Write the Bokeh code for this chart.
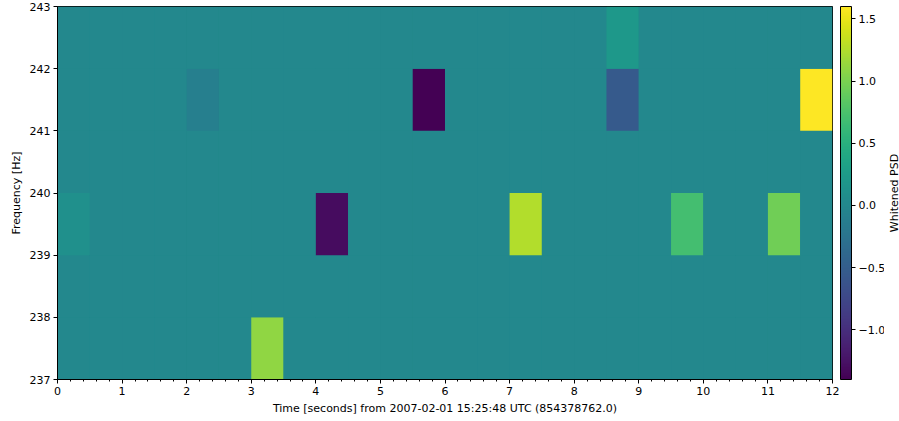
from bokeh.plotting import figure
from bokeh.layouts import row
from bokeh.models import (ColumnDataSource, LinearColorMapper, ColorBar, FixedTicker,
                          CustomJSTickFormatter, Range1d)
from bokeh.palettes import Viridis256
from bokeh.embed import file_html
from bokeh.resources import INLINE

# Time bins (s) start values, frequency bins (Hz) start values
times = [i * 0.5 for i in range(24)]
freqs = [237, 238, 239, 240, 241, 242]

# Whitened PSD per frequency row (24 time bins each)
row_237 = [0, 0, 0, 0, 0, 0, 1.1, 0, 0, 0, 0, 0, 0, 0, 0, 0, 0, 0, 0, 0, 0, 0, 0, 0]
row_238 = [0] * 24
row_239 = [0.1, 0, 0, 0, 0, 0, 0, 0, -1.3, 0, 0, 0, 0, 0, 1.25, 0, 0, 0, 0, 0.7, 0, 0, 0.95, 0]
row_240 = [0] * 24
row_241 = [0, 0, 0, 0, -0.1, 0, 0, 0, 0, 0, 0, -1.4, 0, 0, 0, 0, 0, -0.55, 0, 0, 0, 0, 0, 1.6]
row_242 = [0, 0, 0, 0, 0, 0, 0, 0, 0, 0, 0, 0, 0, 0, 0, 0, 0, 0.2, 0, 0, 0, 0, 0, 0]
rows = [row_237, row_238, row_239, row_240, row_241, row_242]

vmin, vmax = -1.4, 1.6
dt = 0.5
df = 1.0
left, right, bottom, top, val = [], [], [], [], []
for f, r in zip(freqs, rows):
    for t, v in zip(times, r):
        left.append(t); right.append(t + dt)
        bottom.append(f); top.append(f + df)
        val.append(v)
src = ColumnDataSource(dict(left=left, right=right, bottom=bottom, top=top, val=val))

mapper = LinearColorMapper(palette=Viridis256, low=vmin, high=vmax)
zero_color = Viridis256[int((0 - vmin) / (vmax - vmin) * 255)]

FONT = "DejaVu Sans"
p = figure(output_backend="svg", toolbar_location=None,
           frame_width=775, frame_height=373,
           x_range=Range1d(0, 12), y_range=Range1d(237, 243),
           min_border_left=57, min_border_top=6, min_border_right=52, min_border_bottom=0)
p.quad(left="left", right="right", bottom="bottom", top="top", source=src,
       fill_color={"field": "val", "transform": mapper}, line_color=None)

p.grid.visible = False
p.outline_line_color = "black"
p.outline_line_width = 1
p.background_fill_color = zero_color

p.xaxis.ticker = FixedTicker(ticks=list(range(0, 13)),
                             minor_ticks=[i * 0.2 for i in range(61)])
p.yaxis.ticker = FixedTicker(ticks=freqs + [243], minor_ticks=[])
p.xaxis.axis_label = "Time [seconds] from 2007-02-01 15:25:48 UTC (854378762.0)"
p.yaxis.axis_label = "Frequency [Hz]"
for ax in (p.xaxis[0], p.yaxis[0]):
    ax.axis_label_text_font = FONT
    ax.axis_label_text_font_size = "11px"
    ax.axis_label_text_font_style = "normal"
    ax.axis_label_text_color = "black"
    ax.major_label_text_font = FONT
    ax.major_label_text_font_size = "11px"
    ax.major_label_text_color = "black"
    ax.major_tick_in = 0
    ax.major_tick_out = 4
    ax.minor_tick_in = 0
    ax.minor_tick_out = 2
    ax.axis_line_color = "black"
    ax.major_tick_line_color = "black"
    ax.minor_tick_line_color = "black"
    ax.major_label_standoff = 3
    ax.axis_label_standoff = 4
p.yaxis.major_label_orientation = "horizontal"

fmt = CustomJSTickFormatter(code="return tick.toFixed(1).replace('-', '\\u2212');")
cb = ColorBar(color_mapper=mapper, width=11, height=373, margin=0, padding=0,
              location=(783, 0),
              ticker=FixedTicker(ticks=[-1.0, -0.5, 0.0, 0.5, 1.0, 1.5]),
              formatter=fmt,
              major_tick_in=0, major_tick_out=4, major_tick_line_color="black",
              minor_tick_line_color=None,
              bar_line_color="black", bar_line_width=1,
              major_label_text_font=FONT, major_label_text_font_size="11px",
              major_label_text_color="black", label_standoff=3,
              background_fill_color=None, border_line_color=None)
p.add_layout(cb, "center")

# narrow companion figure whose left-axis label is the colour bar title
q = figure(output_backend="svg", toolbar_location=None,
           frame_width=1, frame_height=373,
           x_range=Range1d(0, 1), y_range=Range1d(vmin, vmax),
           min_border_left=0, min_border_top=6, min_border_right=0, min_border_bottom=36)
q.xaxis.visible = False
q.grid.visible = False
q.outline_line_color = None
q.background_fill_color = None
q.border_fill_color = None
qa = q.yaxis[0]
qa.ticker = FixedTicker(ticks=[])
qa.axis_line_color = None
qa.major_tick_line_color = None
qa.minor_tick_line_color = None
qa.major_tick_out = 0
qa.minor_tick_out = 0
qa.major_label_text_font_size = "0px"
qa.axis_label = "Whitened PSD"
qa.axis_label_standoff = 0
qa.axis_label_text_font = FONT
qa.axis_label_text_font_size = "11px"
qa.axis_label_text_font_style = "normal"
qa.axis_label_text_color = "black"

layout = row(p, q, spacing=0)
open("out.html", "w").write(file_html(layout, INLINE))
